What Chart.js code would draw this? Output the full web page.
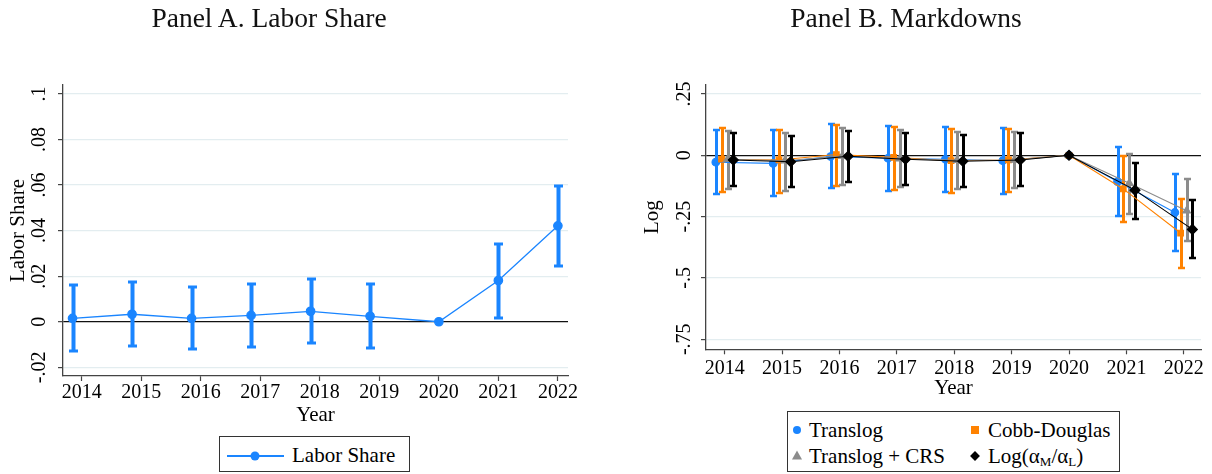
<!DOCTYPE html>
<html>
<head>
<meta charset="utf-8">
<script src="https://cdn.jsdelivr.net/npm/chart.js@4/dist/chart.umd.min.js"></script>
<style>
body { margin:0; background:#fff; font-family:'Liberation Serif', serif; }
#wrap { position:relative; width:1212px; height:474px; overflow:hidden; }
canvas { position:absolute; top:0; }
.ttl { position:absolute; top:0; font-family:'Liberation Serif', serif; font-size:27.5px; line-height:36px; white-space:nowrap; transform:translateX(-50%); color:#111; }
.box { position:absolute; border:1px solid #333; box-sizing:border-box; background:#fff; }
.ln { position:absolute; }
.it { position:absolute; font-size:21px; line-height:24px; white-space:nowrap; color:#000; transform:translateY(-50%); }
.mk { position:absolute; transform:translate(-50%,-50%); }
sub { font-size:13px; vertical-align:-3px; line-height:0; }
</style>
</head>
<body>
<div id="wrap">
	<canvas id="cA" width="606" height="474" style="left:0"></canvas>
	<canvas id="cB" width="606" height="474" style="left:606px"></canvas>
	<div class="ttl" style="left:269px">Panel A. Labor Share</div>
	<div class="ttl" style="left:906px">Panel B. Markdowns</div>
	<div class="box" style="left:219px; top:436px; width:191px; height:36px"></div>
	<div class="box" style="left:787px; top:411px; width:333px; height:61px"></div>
</div>
<script>
// data ========================================================================================

const years = [2014, 2015, 2016, 2017, 2018, 2019, 2020, 2021, 2022]

const ticksA = [-0.02, 0, 0.02, 0.04, 0.06, 0.08, 0.1]
const tickLabelsA = ['-.02', '0', '.02', '.04', '.06', '.08', '.1']
const ticksB = [-0.75, -0.5, -0.25, 0, 0.25]
const tickLabelsB = ['-.75', '-.5', '-.25', '0', '.25']

// panel A, labor share (x shift in years as plotted)
const laborShift = [-0.155, -0.155, -0.155, -0.155, -0.155, -0.155, 0, 0, 0]
const labor   = [0.0015, 0.0033, 0.0015, 0.0028, 0.0046, 0.0024, 0, 0.0181, 0.0421]
const laborLo = [-0.0129, -0.0106, -0.0119, -0.0109, -0.0095, -0.0117, 0, 0.0018, 0.0246]
const laborHi = [0.0162, 0.0174, 0.0153, 0.0166, 0.0187, 0.0166, 0, 0.0343, 0.0596]

// panel B, markdowns
const translog   = [-0.028, -0.033, -0.005, -0.012, -0.016, -0.022, 0, -0.107, -0.233]
const translogLo = [-0.159, -0.167, -0.133, -0.144, -0.149, -0.157, 0, -0.247, -0.389]
const translogHi = [0.102, 0.102, 0.126, 0.119, 0.114, 0.111, 0, 0.035, -0.076]

const cobb   = [-0.016, -0.019, 0.003, -0.008, -0.022, -0.019, 0, -0.137, -0.317]
const cobbLo = [-0.150, -0.152, -0.127, -0.141, -0.154, -0.149, 0, -0.271, -0.458]
const cobbHi = [0.110, 0.103, 0.125, 0.117, 0.107, 0.107, 0, -0.003, -0.178]

const crs   = [-0.016, -0.022, -0.003, -0.014, -0.020, -0.019, 0, -0.114, -0.226]
const crsLo = [-0.138, -0.144, -0.122, -0.130, -0.138, -0.133, 0, -0.238, -0.351]
const crsHi = [0.099, 0.093, 0.111, 0.102, 0.095, 0.096, 0, 0.007, -0.098]

const ratio   = [-0.019, -0.026, -0.004, -0.016, -0.024, -0.019, 0, -0.142, -0.302]
const ratioLo = [-0.126, -0.130, -0.108, -0.122, -0.131, -0.126, 0, -0.259, -0.420]
const ratioHi = [0.089, 0.080, 0.100, 0.092, 0.084, 0.092, 0, -0.031, -0.184]

const shiftB = { translog: -0.155, cobb: -0.055, crs: 0.05, ratio: 0.15 }

// =============================================================================================

const BLUE = '#1a85ff', ORANGE = '#ff8200', GRAY = '#8c8c8c', BLACK = '#000'
const FONT = 'Liberation Serif'

const pts = (v, sh) => v.map((y, i) => ({ x: years[i] + (years[i] === 2020 ? 0 : (Array.isArray(sh) ? sh[i] : sh)), y }))

// rcap style error bars, drawn through the chart scales (snapped to whole pixels so they stay crisp)
const errBars = {
	id: 'errBars',
	beforeDatasetsDraw(c) {
		const sx = c.scales.x, sy = c.scales.y, g = c.ctx
		c.data.datasets.forEach(d => {
			if (!d.lo) return
			g.save()
			g.strokeStyle = d.borderColor
			g.lineCap = 'butt'
			d.data.forEach((p, i) => {
				if (d.lo[i] === d.hi[i]) return
				const x = Math.round(sx.getPixelForValue(p.x)) + 0.5
				const a = Math.round(sy.getPixelForValue(d.lo[i])), b = Math.round(sy.getPixelForValue(d.hi[i]))
				const w = d.capW / 2
				g.lineWidth = d.barW
				g.beginPath(); g.moveTo(x, a); g.lineTo(x, b); g.stroke()
				g.lineWidth = d.capT
				g.beginPath()
				g.moveTo(x - w, a); g.lineTo(x + w, a)
				g.moveTo(x - w, b); g.lineTo(x + w, b)
				g.stroke()
			})
			g.restore()
		})
	}
}

const axes = (o) => ({
	x: {
		type: 'linear', min: o.xmin, max: o.xmax,
		afterBuildTicks: s => { s.ticks = years.map(v => ({ value: v })) },
		afterFit: s => { s.height = o.xh },
		ticks: { color: '#000', font: { family: FONT, size: 20 }, padding: o.xpad, maxRotation: 0, callback: v => String(v) },
		grid: { display: true, drawOnChartArea: false, drawTicks: true, tickLength: 5, tickColor: '#444', tickWidth: 1.2 },
		border: { display: true, color: '#444', width: 1.3 },
		title: { display: true, text: 'Year', color: '#000', font: { family: FONT, size: 21 }, padding: { top: 0, bottom: o.xtp } }
	},
	y: {
		type: 'linear', min: o.ymin, max: o.ymax,
		afterBuildTicks: s => { s.ticks = o.ticks.map(v => ({ value: v })) },
		afterFit: s => { s.width = o.yw },
		ticks: {
			color: '#000', font: { family: FONT, size: 20 }, padding: o.ypad,
			minRotation: 90, maxRotation: 90, crossAlign: 'center',
			callback: v => o.labels[o.ticks.indexOf(v)]
		},
		grid: {
			color: c => c.tick && c.tick.value === 0 ? '#111' : '#e3edf0',
			lineWidth: c => c.tick && c.tick.value === 0 ? 1.3 : 1.2,
			tickLength: 5, tickColor: '#444', tickWidth: 1.2
		},
		border: { display: true, color: '#444', width: 1.3 },
		title: { display: true, text: o.ytitle, color: '#000', font: { family: FONT, size: 21 }, padding: { top: o.ytp, bottom: 0 } }
	}
})

const base = (pad, sc) => ({
	responsive: false, animation: false, devicePixelRatio: 1,
	layout: { padding: pad },
	plugins: { legend: { display: false }, title: { display: false }, tooltip: { enabled: false } },
	scales: sc
})

// panel A =====================================================================================

new Chart(document.getElementById('cA'), {
	type: 'line',
	data: {
		datasets: [{
			label: 'Labor Share',
			data: pts(labor, laborShift),
			lo: laborLo, hi: laborHi, barW: 4, capW: 9, capT: 3,
			borderColor: BLUE, backgroundColor: BLUE, borderWidth: 1.3,
			pointStyle: 'circle', pointRadius: 4.2, tension: 0
		}]
	},
	options: base({ left: 0, top: 85, right: 38, bottom: 0 }, axes({
		xmin: 2013.685, xmax: 2022.17, xh: 98, xpad: 0, xtp: 46,
		ymin: -0.0238, ymax: 0.1039, ticks: ticksA, labels: tickLabelsA, yw: 63, ypad: 2,
		ytitle: 'Labor Share', ytp: 6
	})),
	plugins: [errBars]
})

// panel B =====================================================================================

const serB = [
	['Translog', translog, translogLo, translogHi, shiftB.translog, BLUE, 'circle', 3.8, 3],
	['Cobb-Douglas', cobb, cobbLo, cobbHi, shiftB.cobb, ORANGE, 'rect', 4, 2],
	['Translog + CRS', crs, crsLo, crsHi, shiftB.crs, GRAY, 'triangle', 4.5, 1],
	['Log(αM/αL)', ratio, ratioLo, ratioHi, shiftB.ratio, BLACK, 'rectRot', 5, 0],
]

new Chart(document.getElementById('cB'), {
	type: 'line',
	data: {
		datasets: serB.map(a => ({
			label: a[0],
			data: pts(a[1], a[4]),
			lo: a[2], hi: a[3], barW: 3, capW: 7, capT: 2.5,
			borderColor: a[5], backgroundColor: a[5], borderWidth: 1.1,
			pointStyle: a[6], pointRadius: a[7], order: a[8], tension: 0
		}))
	},
	options: base({ left: 0, top: 85, right: 11, bottom: 0 }, axes({
		xmin: 2013.674, xmax: 2022.30, xh: 124.7, xpad: 2, xtp: 73,
		ymin: -0.791, ymax: 0.2867, ticks: ticksB, labels: tickLabelsB, yw: 100, ypad: 0,
		ytitle: 'Log', ytp: 34
	})),
	plugins: [errBars]
})

// legends (html) ==============================================================================

const w = document.getElementById('wrap')
const add = (html, css, cls) => {
	const d = document.createElement('div')
	d.className = cls
	d.style.cssText = css
	d.innerHTML = html
	w.appendChild(d)
}

add('', 'left:227px; top:455px; width:57px; height:2px; background:' + BLUE, 'ln')
add('', 'left:255px; top:456px; width:9px; height:9px; border-radius:50%; background:' + BLUE, 'mk')
add('Labor Share', 'left:292px; top:455px', 'it')

add('', 'left:797px; top:430px; width:8px; height:8px; border-radius:50%; background:' + BLUE, 'mk')
add('Translog', 'left:809px; top:430px', 'it')
add('', 'left:975px; top:430px; width:8px; height:8px; background:' + ORANGE, 'mk')
add('Cobb-Douglas', 'left:988px; top:430px', 'it')
add('', 'left:797px; top:455px; width:0; height:0; border-left:5px solid transparent; border-right:5px solid transparent; border-bottom:9px solid ' + GRAY, 'mk')
add('Translog + CRS', 'left:809px; top:456px', 'it')
add('', 'left:975px; top:456px; width:7px; height:7px; background:#000; transform:translate(-50%,-50%) rotate(45deg)', 'mk')
add('Log(α<sub>M</sub>/α<sub>L</sub>)', 'left:988px; top:456px', 'it')
</script>
</body>
</html>
